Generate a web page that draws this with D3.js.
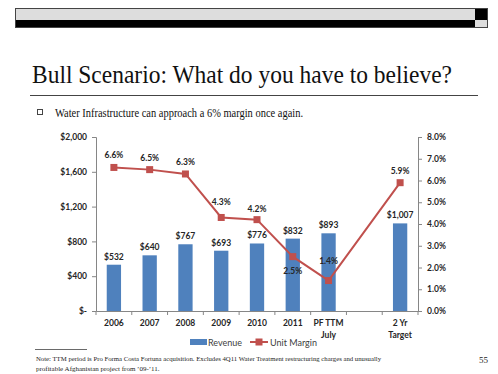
<!DOCTYPE html>
<html>
<head>
<meta charset="utf-8">
<script src="https://cdn.jsdelivr.net/npm/d3@7"></script>
<style>
  body { margin: 0; background: #fff; }
  svg { display: block; }
</style>
</head>
<body>
<svg id="slide" width="498" height="374"></svg>
<script>
// chart values
var categories = ["2006", "2007", "2008", "2009", "2010", "2011", "PF TTM|July", "gap", "2 Yr|Target"];
var revenue = [532, 640, 767, 693, 776, 832, 893, null, 1007];
var unitMargin = [0.066, 0.065, 0.063, 0.043, 0.042, 0.025, 0.014, null, 0.059];
var revenueTicks = [0, 400, 800, 1200, 1600, 2000];
var marginTicks = [0, 0.01, 0.02, 0.03, 0.04, 0.05, 0.06, 0.07, 0.08];
// where Excel put the margin labels (dy from the point)
var marginLabelDy = [-12, -12, -12, -15, -11, 14, -20, 0, -12];

var BLUE = "#4F81BD", RED = "#C0504D", AXIS = "#868686", TXT = "#262626";
var SANS = "Lato, 'Open Sans', sans-serif";
var SERIF = "'Liberation Serif', 'DejaVu Serif', serif";

var svg = d3.select("#slide");

// header bar
svg.append("rect").attr("x", 15).attr("y", 8).attr("width", 460).attr("height", 12).attr("fill", "#dddddd");
svg.append("rect").attr("x", 15).attr("y", 20).attr("width", 460).attr("height", 8).attr("fill", "#000");
svg.append("rect").attr("x", 475).attr("y", 8).attr("width", 13).attr("height", 12).attr("fill", "#000");
svg.append("rect").attr("x", 475).attr("y", 20).attr("width", 13).attr("height", 8).attr("fill", "#dddddd");
svg.append("rect").attr("x", 15.5).attr("y", 8.5).attr("width", 472).attr("height", 19)
    .attr("fill", "none").attr("stroke", "#444").attr("stroke-width", 1);

// title
svg.append("text").attr("x", 32).attr("y", 83)
    .attr("font-family", SERIF).attr("font-size", 25).attr("fill", "#111")
    .attr("textLength", 420).attr("lengthAdjust", "spacingAndGlyphs")
    .text("Bull Scenario: What do you have to believe?");
svg.append("line").attr("x1", 30).attr("x2", 478).attr("y1", 95.5).attr("y2", 95.5)
    .attr("stroke", "#444").attr("stroke-width", 1);

// bullet
svg.append("rect").attr("x", 37.5).attr("y", 109.5).attr("width", 5).attr("height", 5)
    .attr("fill", "none").attr("stroke", "#444").attr("stroke-width", 1);
svg.append("text").attr("x", 55).attr("y", 117)
    .attr("font-family", SERIF).attr("font-size", 13).attr("fill", "#111")
    .attr("textLength", 248).attr("lengthAdjust", "spacingAndGlyphs")
    .text("Water Infrastructure can approach a 6% margin once again.");

// chart
var plotL = 96, plotR = 418, plotT = 137, plotB = 311;

var x = d3.scaleBand().domain(categories).range([plotL, plotR])
    .paddingInner(0.6).paddingOuter(0.3);
var yRev = d3.scaleLinear().domain([0, 2000]).range([plotB, plotT]);
var yMar = d3.scaleLinear().domain([0, 0.08]).range([plotB, plotT]);

var g = svg.append("g");

// bars
g.selectAll("rect.bar")
    .data(categories.map(function(c, i) { return { c: c, v: revenue[i] }; })
        .filter(function(d) { return d.v != null; }))
    .enter()
    .append("rect")
    .attr("class", "bar")
    .attr("x", function(d) { return x(d.c); })
    .attr("width", x.bandwidth())
    .attr("y", function(d) { return yRev(d.v); })
    .attr("height", function(d) { return plotB - yRev(d.v); })
    .attr("fill", BLUE);

// left axis
var axL = g.append("g").attr("transform", "translate(" + plotL + ",0)")
    .call(d3.axisLeft(yRev).tickValues(revenueTicks).tickSize(4).tickPadding(5)
        .tickFormat(function(d) { return d === 0 ? "$-" : "$" + d3.format(",")(d); }));
// right axis
var axR = g.append("g").attr("transform", "translate(" + plotR + ",0)")
    .call(d3.axisRight(yMar).tickValues(marginTicks).tickSize(4).tickPadding(5)
        .tickFormat(d3.format(".1%")));
// bottom axis
var axB = g.append("g").attr("transform", "translate(0," + plotB + ")")
    .call(d3.axisBottom(x).tickSize(0).tickPadding(8).tickFormat(""));

[axL, axR, axB].forEach(function(a) {
    a.select(".domain").attr("stroke", AXIS);
    a.selectAll(".tick line").attr("stroke", AXIS);
    a.selectAll(".tick text").attr("font-family", SANS).attr("font-weight", "bold")
        .attr("font-size", 8.5).attr("fill", TXT);
});

// category boundary ticks
var step = x.step();
g.selectAll("line.xtick")
    .data(d3.range(categories.length + 1))
    .enter()
    .append("line")
    .attr("class", "xtick")
    .attr("x1", function(i) { return plotL + i * step; })
    .attr("x2", function(i) { return plotL + i * step; })
    .attr("y1", plotB).attr("y2", plotB + 4)
    .attr("stroke", AXIS);

// category labels (two-line ones split on |)
var catLab = g.selectAll("text.cat")
    .data(categories.filter(function(c) { return c !== "gap"; }))
    .enter()
    .append("text")
    .attr("class", "cat")
    .attr("text-anchor", "middle")
    .attr("font-family", SANS).attr("font-weight", "bold").attr("font-size", 8.5)
    .attr("fill", TXT);
catLab.each(function(c) {
    var t = d3.select(this);
    c.split("|").forEach(function(part, k) {
        t.append("tspan")
            .attr("x", x(c) + x.bandwidth() / 2)
            .attr("y", plotB + 15 + k * 11.5)
            .text(part);
    });
});

// revenue labels
g.selectAll("text.rev")
    .data(categories.map(function(c, i) { return { c: c, v: revenue[i] }; })
        .filter(function(d) { return d.v != null; }))
    .enter()
    .append("text")
    .attr("class", "rev")
    .attr("x", function(d) { return x(d.c) + x.bandwidth() / 2; })
    .attr("y", function(d) { return yRev(d.v) - 5; })
    .attr("text-anchor", "middle")
    .attr("font-family", SANS).attr("font-weight", "bold").attr("font-size", 8.5)
    .attr("fill", TXT)
    .text(function(d) { return "$" + d3.format(",")(d.v); });

// margin line, skipping the empty slot
var pts = categories.map(function(c, i) { return { c: c, v: unitMargin[i], i: i }; })
    .filter(function(d) { return d.v != null; });
var line = d3.line()
    .x(function(d) { return x(d.c) + x.bandwidth() / 2; })
    .y(function(d) { return yMar(d.v); });
g.append("path").datum(pts).attr("d", line)
    .attr("fill", "none").attr("stroke", RED).attr("stroke-width", 2);
g.selectAll("rect.mk")
    .data(pts)
    .enter()
    .append("rect")
    .attr("class", "mk")
    .attr("x", function(d) { return x(d.c) + x.bandwidth() / 2 - 3.5; })
    .attr("y", function(d) { return yMar(d.v) - 3.5; })
    .attr("width", 7).attr("height", 7)
    .attr("fill", RED);
g.selectAll("text.mar")
    .data(pts)
    .enter()
    .append("text")
    .attr("class", "mar")
    .attr("x", function(d) { return x(d.c) + x.bandwidth() / 2; })
    .attr("y", function(d) { return yMar(d.v) + marginLabelDy[d.i] + 3; })
    .attr("text-anchor", "middle")
    .attr("font-family", SANS).attr("font-weight", "bold").attr("font-size", 8.5)
    .attr("fill", TXT)
    .text(function(d) { return d3.format(".1%")(d.v); });

// legend
var lg = svg.append("g").attr("transform", "translate(190,342)");
lg.append("rect").attr("x", 0).attr("y", -3).attr("width", 17).attr("height", 6).attr("fill", BLUE);
lg.append("text").attr("x", 18).attr("y", 3.5)
    .attr("font-family", SANS).attr("font-size", 9).attr("fill", "#404040").text("Revenue");
lg.append("line").attr("x1", 60).attr("x2", 78).attr("y1", 0).attr("y2", 0)
    .attr("stroke", RED).attr("stroke-width", 2);
lg.append("rect").attr("x", 65.5).attr("y", -3.5).attr("width", 7).attr("height", 7).attr("fill", RED);
lg.append("text").attr("x", 80).attr("y", 3.5)
    .attr("font-family", SANS).attr("font-size", 9).attr("fill", "#404040").text("Unit Margin");

// footnote
svg.append("line").attr("x1", 35).attr("x2", 87).attr("y1", 349.5).attr("y2", 349.5)
    .attr("stroke", "#444").attr("stroke-width", 0.8);
svg.append("text").attr("x", 36).attr("y", 360.5)
    .attr("font-family", SERIF).attr("font-size", 7).attr("fill", "#222")
    .attr("textLength", 345).attr("lengthAdjust", "spacingAndGlyphs")
    .text("Note: TTM period is Pro Forma Costa Fortuna acquisition. Excludes 4Q11 Water Treatment restructuring charges and unusually");
svg.append("text").attr("x", 36).attr("y", 371)
    .attr("font-family", SERIF).attr("font-size", 7).attr("fill", "#222")
    .text("profitable Afghanistan project from \u201909-\u201911.");
svg.append("text").attr("x", 479).attr("y", 363)
    .attr("font-family", SERIF).attr("font-size", 9).attr("fill", "#222").text("55");
</script>
</body>
</html>
